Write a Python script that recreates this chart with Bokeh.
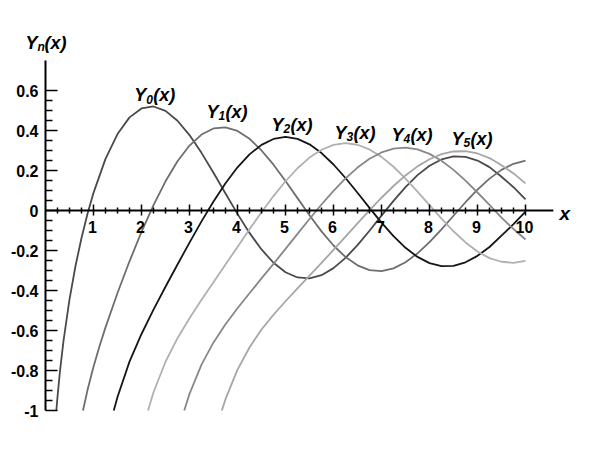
from bokeh.plotting import figure
from bokeh.models import Range1d
from bokeh.core.properties import value
from bokeh.embed import file_html
from bokeh.resources import INLINE

# ---------------- data ----------------
X_TAIL = [2.5, 2.75, 3.0, 3.25, 3.5, 3.75, 4.0, 4.25, 4.5, 4.75, 5.0, 5.25,
          5.5, 5.75, 6.0, 6.25, 6.5, 6.75, 7.0, 7.25, 7.5, 7.75, 8.0, 8.25,
          8.5, 8.75, 9.0, 9.25, 9.5, 9.75, 10.0]

y0_x = [0.226, 0.25, 0.3, 0.375, 0.5, 0.625, 0.75, 0.875, 1.0, 1.25, 1.5, 1.75, 2.0, 2.25] + X_TAIL
y0_y = [-1.0, -0.9316, -0.8073, -0.6518, -0.4445, -0.2775, -0.1372, -0.0165, 0.0883, 0.2582,
        0.3824, 0.4655, 0.5104, 0.5201, 0.4981, 0.4487, 0.3769, 0.2882, 0.1890, 0.0852,
        -0.0169, -0.1120, -0.1947, -0.2613, -0.3085, -0.3348, -0.3395, -0.3233, -0.2882,
        -0.2369, -0.1732, -0.1014, -0.0259, 0.0484, 0.1173, 0.1768, 0.2235, 0.2552, 0.2702,
        0.2683, 0.2499, 0.2168, 0.1688, 0.1163, 0.0557]

y1_x = [0.781, 0.875, 1.0, 1.125, 1.25, 1.5, 1.75, 2.0, 2.25] + X_TAIL
y1_y = [-1.0, -0.8979, -0.7812, -0.6788, -0.5844, -0.4123, -0.2540, -0.1070, 0.0272,
        0.1459, 0.2459, 0.3247, 0.3797, 0.4102, 0.4158, 0.3979, 0.3586, 0.3001, 0.2292,
        0.1479, 0.0619, -0.0238, -0.1042, -0.1750, -0.2326, -0.2741, -0.2977, -0.3027,
        -0.2894, -0.2591, -0.2143, -0.1581, -0.0940, -0.0262, 0.0413, 0.1043, 0.1593,
        0.2032, 0.2336, 0.2490]

y2_x = [1.423, 1.5, 1.75, 2.0, 2.25] + X_TAIL
y2_y = [-1.0, -0.9321, -0.7558, -0.6174, -0.4959,
        -0.3814, -0.2699, -0.1604, -0.0545, 0.0454, 0.1366, 0.2159, 0.2808, 0.3281, 0.3578,
        0.3677, 0.3584, 0.3308, 0.2871, 0.2299, 0.1625, 0.0889, 0.0132, -0.0606, -0.1282,
        -0.1864, -0.2321, -0.2630, -0.2780, -0.2764, -0.2589, -0.2267, -0.1824, -0.1260,
        -0.0684, -0.0059]

y3_x = [2.136, 2.25] + X_TAIL
y3_y = [-1.0, -0.9088,
        -0.7561, -0.6385, -0.5386, -0.4468, -0.3583, -0.2701, -0.1820, -0.0943, -0.0085,
        0.0721, 0.1463, 0.2112, 0.2644, 0.3039, 0.3283, 0.3366, 0.3288, 0.3055, 0.2681,
        0.2187, 0.1597, 0.0945, 0.0266, -0.0408, -0.1039, -0.1597, -0.2051, -0.2382,
        -0.2563, -0.2617, -0.2514]

y4_x = [2.890] + X_TAIL[2:]
y4_y = [-1.0,
        -0.9168, -0.7704, -0.6596, -0.5688, -0.4889, -0.4139, -0.3394, -0.2667, -0.1921,
        -0.1170, -0.0424, 0.0300, 0.0984, 0.1606, 0.2146, 0.2584, 0.2904, 0.3092, 0.3142,
        0.3053, 0.2830, 0.2483, 0.2031, 0.1494, 0.0900, 0.0279, -0.0359, -0.0927, -0.1449]

y5_x = [3.673] + X_TAIL[5:]
y5_y = [-1.0,
        -0.9433, -0.7958, -0.6848, -0.5949, -0.5213, -0.4537, -0.3895, -0.3261, -0.2622,
        -0.1971, -0.1310, -0.0647, 0.0008, 0.0638, 0.1225, 0.1754, 0.2206, 0.2564, 0.2816,
        0.2951, 0.2963, 0.2851, 0.2623, 0.2261, 0.1856, 0.1355]

SERIES_X = [y0_x, y1_x, y2_x, y3_x, y4_x, y5_x]
SERIES_Y = [y0_y, y1_y, y2_y, y3_y, y4_y, y5_y]
SUBSCRIPTS = ["0", "1", "2", "3", "4", "5"]
COLORS = ["#4a4a4a", "#6e6e6e", "#151515", "#b0b0b0", "#888888", "#a6a6a6"]

# curve-label anchors (left edge / baseline of "Y"), data units
LABEL_X = [1.85, 3.355, 4.71, 6.02, 7.21, 8.46]
LABEL_Y = [0.5775, 0.495, 0.43, 0.39, 0.38, 0.36]

X_TICKS = [1, 2, 3, 4, 5, 6, 7, 8, 9, 10]
X_TICK_LABELS = ["1", "2", "3", "4", "5", "6", "7", "8", "9", "10"]
Y_TICKS = [-1.0, -0.8, -0.6, -0.4, -0.2, 0.0, 0.2, 0.4, 0.6]
Y_TICK_LABELS = ["-1", "-0.8", "-0.6", "-0.4", "-0.2", "0", "0.2", "0.4", "0.6"]
X_MINOR_STEP = 0.25
Y_MINOR_STEP = 0.05
X_AXIS_END = 10.58
Y_AXIS_TOP = 0.75

# ---------------- layout ----------------
W, H = 577, 434
PXX, PXY = 48.0, 200.0          # pixels per data unit
OX, OY = 45.0, 210.0            # canvas pixel of the origin

def dx(px):
    return px / PXX

def dy(px):
    return px / PXY

p = figure(width=W, height=H, output_backend="svg", toolbar_location=None,
           x_range=Range1d(-OX / PXX, (W - OX) / PXX),
           y_range=Range1d(-(H - OY) / PXY, OY / PXY),
           x_axis_type=None, y_axis_type=None, title=None,
           min_border=0, outline_line_color=None)
p.grid.visible = False
p.background_fill_color = "white"
p.border_fill_color = "white"

FONT = value("Liberation Sans")

# curves
for xs, ys, c in zip(SERIES_X, SERIES_Y, COLORS):
    p.line(xs, ys, line_color=c, line_width=1.8, line_join="round")

# axes lines
p.segment(x0=[0], y0=[-1.0], x1=[0], y1=[Y_AXIS_TOP], line_color="black", line_width=2)
p.segment(x0=[0], y0=[0], x1=[X_AXIS_END], y1=[0], line_color="black", line_width=2)

# y ticks (inside, to the right)
y_minor = [round(-1.0 + i * Y_MINOR_STEP, 4) for i in range(33)]
y_minor = [v for v in y_minor if v <= 0.6 + 1e-9 and all(abs(v - t) > 1e-6 for t in Y_TICKS)]
p.segment(x0=[0] * len(Y_TICKS), y0=Y_TICKS, x1=[dx(12)] * len(Y_TICKS), y1=Y_TICKS,
          line_color="black", line_width=1.5)
p.segment(x0=[0] * len(y_minor), y0=y_minor, x1=[dx(7)] * len(y_minor), y1=y_minor,
          line_color="black", line_width=1.5)

# x ticks (crossing)
x_minor = [round(i * X_MINOR_STEP, 4) for i in range(1, 41)]
x_minor = [v for v in x_minor if all(abs(v - t) > 1e-6 for t in X_TICKS)]
p.segment(x0=X_TICKS, y0=[dy(6)] * len(X_TICKS), x1=X_TICKS, y1=[-dy(5)] * len(X_TICKS),
          line_color="black", line_width=1.5)
p.segment(x0=x_minor, y0=[dy(3)] * len(x_minor), x1=x_minor, y1=[-dy(3)] * len(x_minor),
          line_color="black", line_width=1.5)

# tick labels
p.text(x=[0] * len(Y_TICKS), y=Y_TICKS, text=Y_TICK_LABELS, x_offset=-7,
       text_font=FONT, text_font_size="16px", text_font_style="bold",
       text_align="right", text_baseline="middle", text_color="black")
p.text(x=X_TICKS, y=[-dy(10)] * len(X_TICKS), text=X_TICK_LABELS, x_offset=-1,
       text_font=FONT, text_font_size="16px", text_font_style="bold",
       text_align="center", text_baseline="top", text_color="black")

# curve labels: Y + subscript + (x)
p.text(x=LABEL_X, y=LABEL_Y, text=["Y"] * 6, text_font=FONT, text_font_size="18px",
       text_font_style="bold italic", text_align="left", text_baseline="alphabetic",
       text_color="black")
p.text(x=LABEL_X, y=[v - dy(4) for v in LABEL_Y], text=SUBSCRIPTS, x_offset=12,
       text_font=FONT, text_font_size="12px", text_font_style="bold italic",
       text_align="left", text_baseline="alphabetic", text_color="black")
p.text(x=LABEL_X, y=LABEL_Y, text=["(x)"] * 6, x_offset=19, text_font=FONT,
       text_font_size="18px", text_font_style="bold italic", text_align="left",
       text_baseline="alphabetic", text_color="black")

# axis titles
TX, TY = dx(-20), dy(168)
p.text(x=[TX], y=[TY], text=["Y"], text_font=FONT, text_font_size="18px",
       text_font_style="bold italic", text_baseline="alphabetic", text_color="black")
p.text(x=[TX], y=[TY - dy(4)], text=["n"], x_offset=12, text_font=FONT,
       text_font_size="12px", text_font_style="bold italic", text_baseline="alphabetic",
       text_color="black")
p.text(x=[TX], y=[TY], text=["(x)"], x_offset=19, text_font=FONT, text_font_size="18px",
       text_font_style="bold italic", text_baseline="alphabetic", text_color="black")
p.text(x=[dx(514)], y=[-dy(3)], text=["x"], text_font=FONT, text_font_size="19px",
       text_font_style="bold italic", text_baseline="alphabetic", text_color="black")

open("out.html", "w").write(file_html(p, INLINE))
